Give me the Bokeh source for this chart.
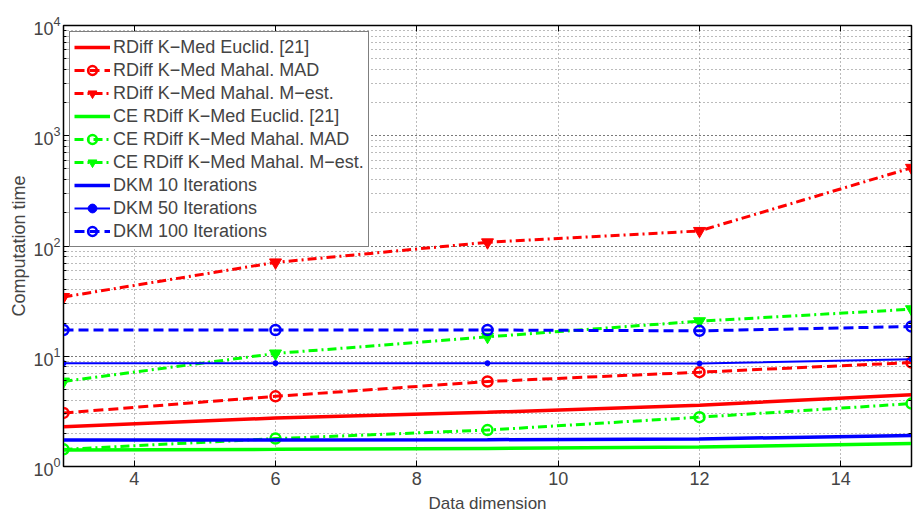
from bokeh.plotting import figure
from bokeh.models import LinearAxis, LogAxis, FixedTicker, LogTicker, Range1d
from bokeh.embed import file_html
from bokeh.resources import INLINE

# ---- data ----
dims = [3, 6, 9, 12, 15]
rdiff_euclid = [2.29, 2.75, 3.1, 3.6, 4.48]
rdiff_mad = [3.06, 4.33, 5.9, 7.17, 8.77]
rdiff_mest = [34.5, 71, 108, 137, 512]
ce_euclid = [1.41, 1.43, 1.46, 1.5, 1.62]
ce_mad = [1.43, 1.79, 2.14, 2.8, 3.72]
ce_mest = [5.9, 10.6, 15.0, 20.8, 26.7]
dkm10 = [1.74, 1.74, 1.75, 1.78, 1.91]
dkm50 = [8.65, 8.65, 8.65, 8.6, 9.4]
dkm100 = [17.3, 17.3, 17.3, 17.0, 18.6]
x_ticks = [4, 6, 8, 10, 12, 14]

FONT = "Liberation Sans"
RED, GREEN, BLUE = "#ff0000", "#00ff00", "#0000ff"
DASH = "10 5"
DASHDOT = "9 4 2 4"

p = figure(width=920, height=515, x_axis_type="linear", y_axis_type="log",
           x_range=Range1d(3, 15), y_range=Range1d(1, 10000),
           output_backend="svg", toolbar_location=None,
           min_border_left=63, min_border_right=9, min_border_top=25, min_border_bottom=46)

p.outline_line_color = "black"
p.outline_line_width = 1.5
p.background_fill_color = "white"

# grids
p.xgrid.ticker = FixedTicker(ticks=x_ticks)
for g in (p.xgrid, p.ygrid):
    g.grid_line_color = "#555555"
    g.grid_line_dash = "1 3"
    g.grid_line_width = 1
    g.grid_line_alpha = 0.8
p.ygrid.minor_grid_line_color = "#555555"
p.ygrid.minor_grid_line_dash = "1 3"
p.ygrid.minor_grid_line_alpha = 0.8

# axes
p.xaxis.ticker = FixedTicker(ticks=x_ticks)
p.xaxis.axis_label = "Data dimension"
p.yaxis.axis_label = "Computation time"
for ax in (p.xaxis, p.yaxis):
    ax.axis_label_text_font = FONT
    ax.axis_label_text_font_size = "17px"
    ax.axis_label_text_font_style = "normal"
    ax.major_label_text_font = FONT
    ax.major_label_text_font_size = "18px"
    ax.major_tick_in = 6
    ax.major_tick_out = 0
    ax.minor_tick_in = 3
    ax.minor_tick_out = 0
    ax.axis_line_color = "black"
    ax.major_tick_line_color = "black"
    ax.minor_tick_line_color = "black"
p.xaxis.major_label_standoff = 5
p.xaxis.axis_label_standoff = 6
p.yaxis.major_label_standoff = 3
p.yaxis.axis_label_standoff = 1
p.yaxis.axis_label_text_font_size = "18px"

top = LinearAxis(ticker=FixedTicker(ticks=x_ticks), major_label_text_font_size="2px",
                 major_label_text_alpha=0, major_label_standoff=0,
                 major_tick_in=6, major_tick_out=0, minor_tick_in=0, minor_tick_out=0)
right = LogAxis(ticker=LogTicker(), major_label_text_font_size="2px",
                major_label_text_alpha=0, major_label_standoff=0,
                major_tick_in=6, major_tick_out=0, minor_tick_in=3, minor_tick_out=0)
p.add_layout(top, "above")
p.add_layout(right, "right")

# ---- series ----
p.line(dims, rdiff_euclid, color=RED, line_width=3.5, legend_label="RDiff K\u2212Med Euclid. [21]")

p.line(dims, rdiff_mad, color=RED, line_width=3, line_dash=DASH, legend_label="RDiff K\u2212Med Mahal. MAD")
p.scatter(dims, rdiff_mad, marker="circle", size=10, line_color=RED, line_width=2.5,
          fill_color=None, legend_label="RDiff K\u2212Med Mahal. MAD")

p.line(dims, rdiff_mest, color=RED, line_width=3, line_dash=DASHDOT, legend_label="RDiff K\u2212Med Mahal. M\u2212est.")
p.scatter(dims, rdiff_mest, marker="inverted_triangle", size=12, line_color=RED,
          fill_color=RED, legend_label="RDiff K\u2212Med Mahal. M\u2212est.")

p.line(dims, ce_euclid, color=GREEN, line_width=3.5, legend_label="CE RDiff K\u2212Med Euclid. [21]")

p.line(dims, ce_mad, color=GREEN, line_width=3, line_dash=DASHDOT, legend_label="CE RDiff K\u2212Med Mahal. MAD")
p.scatter(dims, ce_mad, marker="circle", size=10, line_color=GREEN, line_width=2.5,
          fill_color=None, legend_label="CE RDiff K\u2212Med Mahal. MAD")

p.line(dims, ce_mest, color=GREEN, line_width=3, line_dash=DASHDOT, legend_label="CE RDiff K\u2212Med Mahal. M\u2212est.")
p.scatter(dims, ce_mest, marker="inverted_triangle", size=12, line_color=GREEN,
          fill_color=GREEN, legend_label="CE RDiff K\u2212Med Mahal. M\u2212est.")

p.line(dims, dkm10, color=BLUE, line_width=3.5, legend_label="DKM 10 Iterations")

p.line(dims, dkm50, color=BLUE, line_width=2, legend_label="DKM 50 Iterations")
p.scatter(dims, dkm50, marker="circle", size=5, line_color=BLUE, fill_color=BLUE,
          legend_label="DKM 50 Iterations")

p.line(dims, dkm100, color=BLUE, line_width=3, line_dash=DASH, legend_label="DKM 100 Iterations")
p.scatter(dims, dkm100, marker="circle", size=10, line_color=BLUE, line_width=2.5,
          fill_color=None, legend_label="DKM 100 Iterations")

# legend
lg = p.legend[0]
lg.location = "top_left"
lg.margin = 6
lg.padding = 4
lg.spacing = 1
lg.label_height = 22
lg.glyph_height = 22
lg.glyph_width = 36
lg.label_standoff = 3
lg.label_text_font = FONT
lg.label_text_font_size = "18px"
lg.border_line_color = "black"
lg.border_line_width = 1.5
lg.background_fill_alpha = 1.0

open("out.html", "w").write(file_html(p, INLINE))
